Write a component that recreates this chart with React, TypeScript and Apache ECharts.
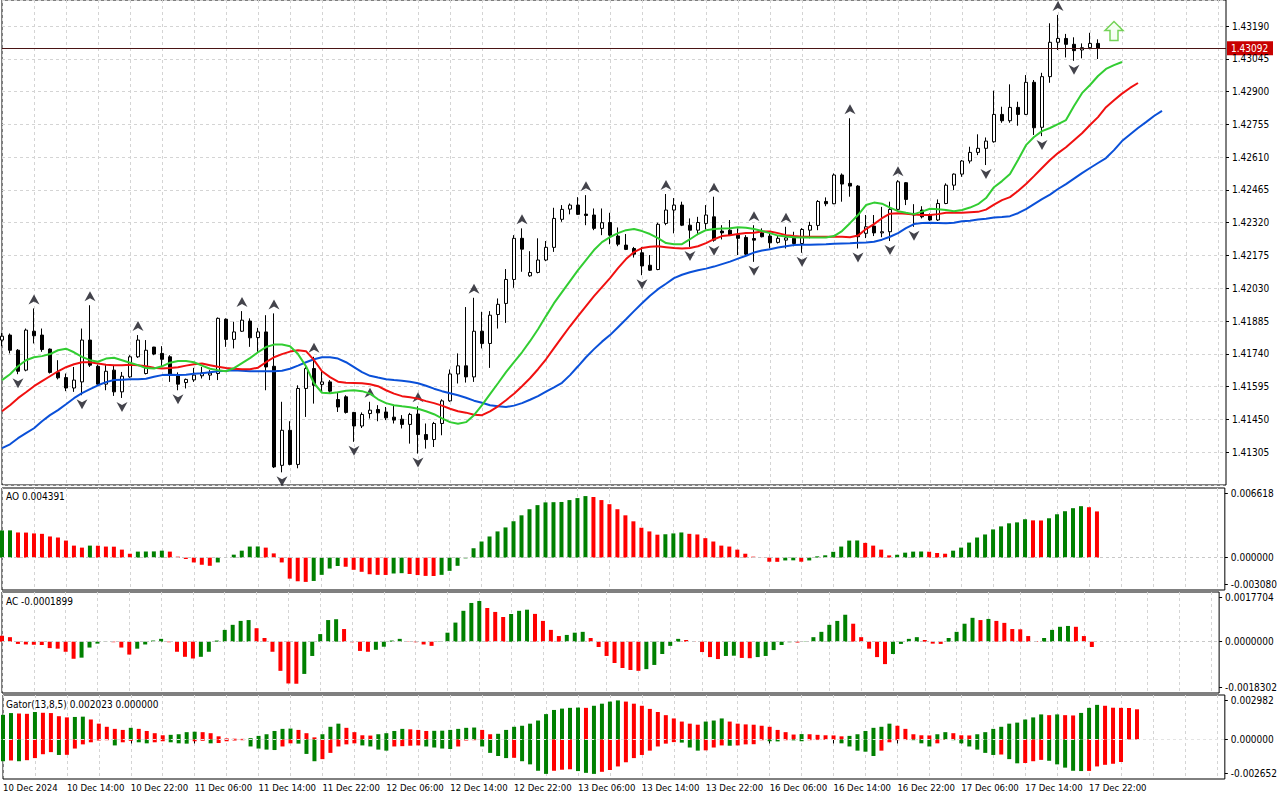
import React, { useEffect, useRef } from "react";
import * as echarts from "echarts";

// ---------- data ----------
const BASE = 1.41305;
const PT = 100000;
const priceTickStep = 0.00145;
const mainTopPrice = 1.43305;

const sessionDays = ["10 Dec", "11 Dec", "12 Dec", "13 Dec", "16 Dec", "17 Dec", "18 Dec"];
const firstHour = 6;
const SLOTS = 154;

const xTickLabels = [
  "10 Dec 2024", "10 Dec 14:00", "10 Dec 22:00", "11 Dec 06:00", "11 Dec 14:00", "11 Dec 22:00",
  "12 Dec 06:00", "12 Dec 14:00", "12 Dec 22:00", "13 Dec 06:00", "13 Dec 14:00", "13 Dec 22:00",
  "16 Dec 06:00", "16 Dec 14:00", "16 Dec 22:00", "17 Dec 06:00", "17 Dec 14:00", "17 Dec 22:00",
];

const opens = [
  1.41801, 1.41823, 1.41756, 1.41668, 1.4184, 1.41823, 1.41761, 1.41658, 1.41635, 1.41589,
  1.41616, 1.41801, 1.41685, 1.41606, 1.41668, 1.41572, 1.41638, 1.41727, 1.41653, 1.4177,
  1.41742, 1.41727, 1.41643, 1.41613, 1.41625, 1.41643, 1.41646, 1.41653, 1.41893, 1.41804,
  1.4184, 1.41885, 1.41812, 1.41837, 1.41685, 1.41247, 1.41402, 1.41251, 1.41587, 1.41675,
  1.41605, 1.41616, 1.41538, 1.4155, 1.41481, 1.41421, 1.41476, 1.41494, 1.41483, 1.4146,
  1.41451, 1.41428, 1.41474, 1.41383, 1.41361, 1.41432, 1.41532, 1.41651, 1.41687, 1.41638,
  1.4184, 1.41786, 1.41914, 1.41963, 1.42069, 1.42251, 1.42085, 1.421, 1.42155, 1.42211,
  1.42335, 1.4238, 1.42398, 1.42358, 1.42354, 1.42295, 1.42321, 1.42261, 1.42221, 1.42206,
  1.42187, 1.42132, 1.42113, 1.42317, 1.42376, 1.42398, 1.42309, 1.42287, 1.42317, 1.42346,
  1.42283, 1.42287, 1.42265, 1.42255, 1.4225, 1.42275, 1.42261, 1.42233, 1.42243, 1.42251,
  1.42228, 1.42287, 1.42308, 1.42414, 1.42404, 1.42531, 1.42494, 1.42482, 1.42273, 1.42305,
  1.42275, 1.4228, 1.42379, 1.42497, 1.42354, 1.42376, 1.42354, 1.42332, 1.42405, 1.42486,
  1.42535, 1.42593, 1.42631, 1.42649, 1.42678, 1.42799, 1.42771, 1.4283, 1.42799, 1.42941,
  1.42742, 1.42966, 1.43118, 1.43135, 1.43109, 1.43084, 1.43094, 1.43113,
];
const closes = [
  1.41818, 1.41756, 1.41663, 1.41845, 1.4182, 1.41759, 1.41658, 1.41634, 1.41589, 1.41624,
  1.41801, 1.4169, 1.41606, 1.41663, 1.41572, 1.41641, 1.41727, 1.41801, 1.41756, 1.41739,
  1.41716, 1.41646, 1.41606, 1.41627, 1.41646, 1.41656, 1.41655, 1.41897, 1.41804, 1.41837,
  1.41889, 1.41811, 1.41837, 1.41682, 1.4124, 1.41402, 1.41251, 1.41587, 1.41675, 1.41601,
  1.41616, 1.41575, 1.41505, 1.41481, 1.41421, 1.41472, 1.41491, 1.41479, 1.41457, 1.41447,
  1.41428, 1.41472, 1.41383, 1.41361, 1.41432, 1.41532, 1.41651, 1.41687, 1.41638, 1.4184,
  1.41786, 1.41911, 1.41959, 1.42069, 1.42251, 1.42203, 1.421, 1.42155, 1.42211, 1.42339,
  1.42379, 1.42398, 1.42357, 1.42352, 1.42295, 1.4232, 1.42265, 1.42225, 1.42202, 1.42181,
  1.42129, 1.4211, 1.42313, 1.42376, 1.42398, 1.42309, 1.42287, 1.42321, 1.42354, 1.42243,
  1.42275, 1.42265, 1.42251, 1.42181, 1.42243, 1.42258, 1.42231, 1.42251, 1.42253, 1.42228,
  1.4229, 1.42308, 1.42414, 1.42404, 1.42531, 1.42491, 1.42482, 1.42258, 1.42302, 1.42275,
  1.4228, 1.42379, 1.42501, 1.42423, 1.42361, 1.42346, 1.42332, 1.42405, 1.42486, 1.42535,
  1.42593, 1.42631, 1.42649, 1.42681, 1.42799, 1.42771, 1.4283, 1.42799, 1.42941, 1.4274,
  1.42966, 1.43118, 1.43135, 1.43109, 1.43081, 1.43094, 1.43113, 1.43092,
];
const lows = [
  1.41774, 1.41742, 1.4165, 1.41663, 1.41786, 1.41749, 1.41653, 1.41627, 1.41575, 1.41572,
  1.41557, 1.41682, 1.41601, 1.41579, 1.41554, 1.41545, 1.41634, 1.41722, 1.41649, 1.41734,
  1.41682, 1.41616, 1.41579, 1.41587, 1.41616, 1.41631, 1.41624, 1.41624, 1.41771, 1.41764,
  1.41837, 1.41771, 1.41749, 1.41579, 1.41235, 1.41216, 1.41247, 1.41234, 1.41461, 1.4152,
  1.41572, 1.41565, 1.41483, 1.41476, 1.41351, 1.41412, 1.41454, 1.41442, 1.41447, 1.41432,
  1.4141, 1.41343, 1.41299, 1.41321, 1.41328, 1.4138, 1.41528, 1.41609, 1.41613, 1.41616,
  1.41764, 1.41678, 1.41852, 1.41877, 1.42032, 1.42103, 1.42081, 1.42096, 1.4215, 1.42191,
  1.42324, 1.42357, 1.42354, 1.42309, 1.42287, 1.42265, 1.42225, 1.42216, 1.42199, 1.42166,
  1.42088, 1.42107, 1.4211, 1.42309, 1.42273, 1.42305, 1.42213, 1.42265, 1.4229, 1.42236,
  1.42246, 1.42261, 1.42177, 1.42177, 1.42147, 1.42255, 1.42206, 1.42228, 1.42206, 1.42216,
  1.42187, 1.42251, 1.42287, 1.42393, 1.42402, 1.42413, 1.42435, 1.42206, 1.42252, 1.42261,
  1.42256, 1.42239, 1.42376, 1.42398, 1.42302, 1.42339, 1.42328, 1.42328, 1.42402, 1.42464,
  1.42523, 1.42582, 1.42619, 1.42575, 1.42674, 1.42762, 1.42762, 1.42749, 1.42796, 1.42708,
  1.42703, 1.42939, 1.43084, 1.43051, 1.43036, 1.43047, 1.43087, 1.43044,
];
const highs = [
  1.41832, 1.4183, 1.41761, 1.41852, 1.41941, 1.41852, 1.41764, 1.41712, 1.41653, 1.41682,
  1.41852, 1.41955, 1.41693, 1.41693, 1.4169, 1.4166, 1.41734, 1.41823, 1.41801, 1.41771,
  1.41774, 1.41734, 1.41658, 1.41631, 1.41678, 1.41682, 1.41668, 1.41901, 1.41897, 1.41882,
  1.41929, 1.41897, 1.41855, 1.41911, 1.41919, 1.41528, 1.41442, 1.41601, 1.41682, 1.41727,
  1.41668, 1.41624, 1.41572, 1.41557, 1.41483, 1.41481, 1.41528, 1.41513, 1.41505, 1.4151,
  1.41469, 1.41479, 1.41508, 1.41432, 1.41439, 1.41539, 1.41671, 1.41742, 1.41947, 1.41988,
  1.41926, 1.41929, 1.41985, 1.42115, 1.42265, 1.42295, 1.42194, 1.42251, 1.42239, 1.42386,
  1.42398, 1.42405, 1.42433, 1.42442, 1.42383, 1.42383, 1.42364, 1.42299, 1.4227, 1.42213,
  1.42213, 1.42177, 1.4232, 1.42447, 1.42429, 1.42413, 1.42339, 1.42346, 1.42398, 1.42435,
  1.42309, 1.42332, 1.42295, 1.42265, 1.42309, 1.42295, 1.42273, 1.42265, 1.42302, 1.4228,
  1.42296, 1.42324, 1.4242, 1.42432, 1.42538, 1.42538, 1.42782, 1.42486, 1.42354, 1.42354,
  1.4239, 1.42413, 1.42508, 1.425, 1.42402, 1.42393, 1.42361, 1.42423, 1.42494, 1.42538,
  1.42597, 1.42656, 1.42711, 1.42697, 1.42904, 1.42833, 1.42932, 1.42855, 1.42973, 1.42951,
  1.42983, 1.43202, 1.43239, 1.43155, 1.4314, 1.43113, 1.4316, 1.43131,
];

// Alligator (jaw shifted 8, teeth 5, lips 3)
const jaw = [
  1.41323, 1.4134, 1.41367, 1.41389, 1.41411, 1.41442, 1.41469, 1.41491, 1.41517, 1.41544,
  1.41566, 1.41584, 1.41601, 1.41615, 1.41624, 1.41626, 1.41628, 1.41628, 1.4163, 1.41639,
  1.41646, 1.41648, 1.41646, 1.41648, 1.41652, 1.41654, 1.41659, 1.41663, 1.41665, 1.41668,
  1.41665, 1.41663, 1.41663, 1.41663, 1.41663, 1.41665, 1.41674, 1.41688, 1.41703, 1.41716,
  1.41725, 1.41725, 1.41719, 1.41703, 1.41681, 1.41659, 1.41643, 1.41635, 1.41628, 1.41624,
  1.41621, 1.41617, 1.4161, 1.41599, 1.41586, 1.41575, 1.41566, 1.41557, 1.41546, 1.41533,
  1.41524, 1.41513, 1.41508, 1.41505, 1.41511, 1.41522, 1.41537, 1.41553, 1.41573, 1.41592,
  1.41612, 1.41646, 1.41685, 1.41725, 1.41761, 1.41794, 1.41823, 1.41858, 1.41893, 1.41929,
  1.41964, 1.41997, 1.42026, 1.4205, 1.42075, 1.4209, 1.42101, 1.4211, 1.42117, 1.42126,
  1.42137, 1.42148, 1.42161, 1.42174, 1.42188, 1.42197, 1.42203, 1.4221, 1.42216, 1.42221,
  1.42222, 1.42223, 1.42224, 1.42225, 1.42227, 1.42228, 1.42229, 1.42231, 1.42233, 1.42236,
  1.42245, 1.42258, 1.42274, 1.42296, 1.42314, 1.42319, 1.4232, 1.42319, 1.42318, 1.4232,
  1.42326, 1.42329, 1.42334, 1.42338, 1.42343, 1.42345, 1.42349, 1.42362, 1.4238, 1.42402,
  1.42424, 1.42444, 1.42469, 1.42491, 1.42515, 1.42539, 1.42562, 1.42584, 1.42606, 1.42641,
  1.42681, 1.4271, 1.42739, 1.42765, 1.42792, 1.42815,
];
const teeth = [
  1.41486, 1.41513, 1.41544, 1.4157, 1.41597, 1.41619, 1.41641, 1.41663, 1.41681, 1.41694,
  1.41703, 1.41703, 1.41697, 1.41692, 1.4169, 1.4169, 1.41692, 1.4169, 1.41685, 1.41679,
  1.41675, 1.41677, 1.41681, 1.41688, 1.41694, 1.41697, 1.4169, 1.41683, 1.41677, 1.41674,
  1.41672, 1.41672, 1.41679, 1.41703, 1.41725, 1.41739, 1.4175, 1.41756, 1.41752, 1.41712,
  1.41663, 1.41637, 1.41617, 1.41612, 1.41611, 1.4161, 1.41606, 1.41597, 1.41579, 1.41564,
  1.41553, 1.41548, 1.41542, 1.41531, 1.41522, 1.41511, 1.41497, 1.41486, 1.4148, 1.41471,
  1.41469, 1.41486, 1.41508, 1.41535, 1.41564, 1.41597, 1.41632, 1.41672, 1.41716, 1.41765,
  1.41814, 1.41862, 1.41907, 1.41951, 1.41995, 1.42035, 1.42075, 1.42119, 1.42159, 1.4219,
  1.42208, 1.42214, 1.42216, 1.42212, 1.42208, 1.42206, 1.42208, 1.42216, 1.4223, 1.42247,
  1.42261, 1.42265, 1.4227, 1.42274, 1.42276, 1.42281, 1.42281, 1.42274, 1.42265, 1.42261,
  1.42258, 1.42258, 1.42258, 1.42258, 1.42258, 1.42258, 1.42256, 1.42263, 1.42292, 1.42314,
  1.4234, 1.4236, 1.42362, 1.4236, 1.42356, 1.42354, 1.42354, 1.42358, 1.42364, 1.42364,
  1.42364, 1.42366, 1.42368, 1.42378, 1.424, 1.4242, 1.42433, 1.4246, 1.42491, 1.42526,
  1.42562, 1.42597, 1.42628, 1.42654, 1.42685, 1.42716, 1.42752, 1.42787, 1.42831, 1.42862,
  1.42891, 1.42916, 1.42938,
];
const lips = [
  1.41624, 1.4165, 1.41685, 1.41712, 1.41725, 1.4173, 1.41739, 1.41756, 1.41763, 1.41747,
  1.41727, 1.41712, 1.41705, 1.41719, 1.41723, 1.41712, 1.41701, 1.4169, 1.41677, 1.41675,
  1.41685, 1.41701, 1.41708, 1.41708, 1.41703, 1.41688, 1.41674, 1.41668, 1.41663, 1.41677,
  1.41699, 1.41721, 1.41747, 1.4177, 1.41781, 1.41781, 1.41774, 1.41739, 1.41685, 1.4161,
  1.41568, 1.41566, 1.4157, 1.41577, 1.41579, 1.41575, 1.41564, 1.41539, 1.41522, 1.41513,
  1.41508, 1.41504, 1.41497, 1.41486, 1.41473, 1.41455, 1.41438, 1.41431, 1.41438, 1.41469,
  1.41513, 1.41562, 1.4161, 1.41659, 1.41703, 1.41747, 1.41796, 1.41849, 1.41907, 1.41964,
  1.42013, 1.42062, 1.4211, 1.42155, 1.42199, 1.42234, 1.42256, 1.42274, 1.42287, 1.42292,
  1.42283, 1.4227, 1.42252, 1.4223, 1.42225, 1.42225, 1.42247, 1.4227, 1.42287, 1.42292,
  1.42294, 1.42296, 1.423, 1.42298, 1.42292, 1.42283, 1.42274, 1.42263, 1.42259, 1.42256,
  1.42255, 1.42255, 1.42255, 1.42255, 1.42261, 1.42283, 1.42318, 1.42354, 1.42398, 1.42409,
  1.42404, 1.42387, 1.42371, 1.42364, 1.42358, 1.42369, 1.42382, 1.4238, 1.42376, 1.42371,
  1.42376, 1.42387, 1.42402, 1.42429, 1.42477, 1.42504, 1.42535, 1.42597, 1.42663, 1.42699,
  1.42725, 1.42739, 1.42756, 1.42774, 1.42836, 1.42893, 1.42929, 1.42969, 1.43, 1.43017,
  1.43031,
];

const fractalUp = [4, 11, 17, 30, 34, 39, 46, 52, 59, 65, 73, 83, 89, 94, 98, 106, 112, 132];
const fractalDown = [2, 10, 15, 22, 35, 44, 52, 80, 86, 89, 94, 100, 107, 111, 114, 123, 130, 134];

const signalBar = 139;
const signalPrice = 1.43168;

const ao = [
  0.00258, 0.00259, 0.00239, 0.00238, 0.0023, 0.00226, 0.00201, 0.00191, 0.00162, 0.00114,
  0.00095, 0.00114, 0.00113, 0.00105, 0.00104, 0.00076, 0.00037, 0.00057, 0.00058, 0.00059,
  0.00066, 0.00057, 0.00009, -0.00013, -0.00046, -0.00068, -0.00078, -0.00046, -0.00001, 0.00028,
  0.00066, 0.00105, 0.00106, 0.00095, 0.0004, -0.00046, -0.002, -0.00225, -0.00231, -0.00222,
  -0.00164, -0.00104, -0.0008, -0.00087, -0.00116, -0.00135, -0.00158, -0.00164, -0.00165, -0.00151,
  -0.00148, -0.00156, -0.00166, -0.00174, -0.00175, -0.00164, -0.00126, -0.00078, -0.00007, 0.00089,
  0.00153, 0.00201, 0.00249, 0.00287, 0.00345, 0.00402, 0.0046, 0.00499, 0.00525, 0.00527,
  0.00529, 0.00547, 0.00566, 0.00585, 0.00576, 0.00547, 0.00508, 0.0046, 0.00402, 0.00345,
  0.00284, 0.00249, 0.00218, 0.00222, 0.0023, 0.00239, 0.00226, 0.0022, 0.00185, 0.00153,
  0.00114, 0.00105, 0.00076, 0.00037, 0.00009, -0.00001, -0.00039, -0.0004, -0.00027, -0.00026,
  -0.00039, -0.00027, 0.00012, 0.00022, 0.00055, 0.00105, 0.00162, 0.00163, 0.0014, 0.00114,
  0.00076, 0.00021, 0.00027, 0.00047, 0.00057, 0.00058, 0.00056, 0.00044, 0.00037, 0.00066,
  0.00095, 0.00143, 0.00191, 0.0022, 0.00268, 0.00297, 0.00326, 0.00335, 0.00364, 0.00354,
  0.00353, 0.00374, 0.00412, 0.00441, 0.0047, 0.00489, 0.00479, 0.004391,
];
const ac = [
  0.00021, 0.00016, -0.00008, -0.0001, -0.00011, -0.00012, -0.00023, -0.00025, -0.00036, -0.00061,
  -0.00057, -0.00021, -0.00007, -0.00001, -0.00002, -0.00021, -0.00046, -0.00025, -0.0001, 0.00004,
  0.0001, -0.00002, -0.00036, -0.00054, -0.0006, -0.00054, -0.00036, 0.00004, 0.00042, 0.0006,
  0.00074, 0.00077, 0.00048, 0.00013, -0.00036, -0.00104, -0.00149, -0.0015, -0.00115, -0.00051,
  0.00027, 0.00077, 0.0008, 0.00045, -0.00002, -0.00033, -0.00036, -0.00029, -0.00018, 0.00004,
  0.0001, 0.00001, -0.00002, -0.0001, -0.00015, -0.00001, 0.00032, 0.00068, 0.0011, 0.00138,
  0.00145, 0.0012, 0.00106, 0.00088, 0.00099, 0.0011, 0.00114, 0.00099, 0.00074, 0.00042,
  0.0002, 0.00024, 0.00032, 0.00035, 0.00013, -0.00019, -0.00051, -0.00076, -0.00094, -0.00101,
  -0.00104, -0.00098, -0.00083, -0.00044, -0.00015, 0.0001, 0.00006, -0.00001, -0.00037, -0.00055,
  -0.00062, -0.00051, -0.0005, -0.00058, -0.00059, -0.00055, -0.00051, -0.0003, -0.00012, -0.00002,
  -0.00003, 0.00001, 0.00016, 0.00035, 0.0006, 0.00074, 0.00096, 0.00064, 0.00016, -0.00025,
  -0.00055, -0.0008, -0.00044, -0.00008, 0.0001, 0.00016, 0.00006, -0.00007, -0.00008, 0.00013,
  0.00035, 0.00064, 0.00085, 0.00077, 0.00081, 0.00074, 0.00067, 0.00045, 0.00044, 0.0002,
  0.00002, 0.00013, 0.00042, 0.00053, 0.00056, 0.00053, 0.0002, -0.0001899,
];
const gatorUp = [
  0.00165, 0.00177, 0.00174, 0.00172, 0.00184, 0.00179, 0.00177, 0.00156, 0.00148, 0.00151,
  0.00153, 0.00134, 0.00106, 0.00085, 0.00071, 0.00064, 0.00078, 0.00071, 0.00057, 0.00042,
  0.00028, 0.00031, 0.00035, 0.00049, 0.00052, 0.00049, 0.00042, 0.00021, 0.00007, 0.00005,
  0.00004, 0.00009, 0.00024, 0.00035, 0.00057, 0.00071, 0.00073, 0.00064, 0.00042, 0.00014,
  0.00035, 0.00085, 0.00106, 0.00078, 0.00049, 0.00028, 0.00026, 0.00035, 0.00042, 0.00057,
  0.00071, 0.00068, 0.00064, 0.00057, 0.00058, 0.00059, 0.00064, 0.00071, 0.00078, 0.0008,
  0.00064, 0.00035, 0.00038, 0.00064, 0.00085, 0.00092, 0.00106, 0.00127, 0.0017, 0.00198,
  0.00207, 0.00212, 0.00214, 0.00212, 0.00226, 0.0024, 0.00254, 0.00262, 0.00254, 0.0024,
  0.00226, 0.00205, 0.00184, 0.00163, 0.00141, 0.0012, 0.00106, 0.00099, 0.0012, 0.00127,
  0.00141, 0.0012, 0.00106, 0.00101, 0.00099, 0.00092, 0.00085, 0.00064, 0.00049, 0.00033,
  0.00036, 0.00035, 0.00031, 0.00028, 0.00027, 0.00021, 0.00024, 0.00035, 0.00057, 0.00078,
  0.00085, 0.00106, 0.00092, 0.00071, 0.00035, 0.00028, 0.00027, 0.00035, 0.00049, 0.00042,
  0.00028, 0.00027, 0.00035, 0.00049, 0.00071, 0.00085, 0.00106, 0.00113, 0.00134, 0.00148,
  0.00168, 0.00163, 0.00168, 0.00163, 0.00161, 0.00178, 0.00212, 0.00232, 0.00226, 0.00213,
  0.00212, 0.00211, 0.002023,
];
const gatorDown = [
  -0.00146, -0.00141, -0.00146, -0.00139, -0.00125, -0.00099, -0.00085, -0.00104, -0.00103, -0.00061,
  -0.00033, -0.00019, -0.00007, -0.00005, -0.0004, -0.00019, -0.00009, -0.00019, -0.00026, -0.00019,
  -0.00012, -0.00019, -0.00026, -0.00028, -0.00012, -0.00009, -0.00026, -0.00024, -0.00012, -0.00007,
  -0.00005, -0.00047, -0.00061, -0.00068, -0.00071, -0.00047, -0.00026, -0.00028, -0.00097, -0.00146,
  -0.00132, -0.0009, -0.00047, -0.00033, -0.00026, -0.0004, -0.00047, -0.00068, -0.00075, -0.00047,
  -0.00045, -0.00042, -0.0004, -0.00047, -0.00054, -0.00061, -0.00064, -0.00047, -0.00007, -0.00005,
  -0.00047, -0.0009, -0.00111, -0.00125, -0.00123, -0.00146, -0.00167, -0.0021, -0.00231, -0.0021,
  -0.00203, -0.002, -0.00212, -0.00224, -0.00231, -0.00217, -0.00205, -0.00181, -0.00153, -0.00125,
  -0.00104, -0.00075, -0.00047, -0.00028, -0.00018, -0.00021, -0.00054, -0.00075, -0.00073, -0.00054,
  -0.0004, -0.00042, -0.0004, -0.00033, -0.00032, -0.00005, -0.00012, -0.00013, -0.00005, -0.00006,
  -0.00012, -0.00005, -0.00004, -0.00003, -0.00002, -0.00026, -0.00047, -0.00075, -0.00082, -0.00111,
  -0.00075, -0.00019, -0.00005, -0.00004, -0.00005, -0.00026, -0.00047, -0.00026, -0.00003, -0.00005,
  -0.00026, -0.00047, -0.00068, -0.0009, -0.00104, -0.00101, -0.00132, -0.0016, -0.00158, -0.00146,
  -0.00137, -0.00143, -0.00167, -0.00189, -0.0021, -0.00212, -0.00211, -0.00181, -0.0017, -0.00163,
  -0.00151,
];

const aoRange = [-0.00308, 0.006618];
const acRange = [-0.0018302, 0.0017704];
const gatorRange = [-0.002652, 0.002982];

// ---------- styling ----------
const FONT = 'Tahoma, "DejaVu Sans Condensed", "Liberation Sans", Arial, sans-serif';
const FS = 10;
const FS_X = 9.5;
const GREEN = "#008000";
const RED = "#ff0000";
const GRID_LINE = { color: "#d4d4d4", type: [3, 3] as number[], width: 1 };

const toPts = (p: number) => (p - BASE) * PT;

function buildCategories(): string[] {
  const out: string[] = [];
  for (let d = 0; d < sessionDays.length && out.length < SLOTS; d++) {
    for (let h = d === 0 ? firstHour : 0; h < 24 && out.length < SLOTS; h++) {
      out.push(`${sessionDays[d]} ${String(h).padStart(2, "0")}:00`);
    }
  }
  return out;
}

const GRIDS = [
  { top: 0, height: 485 },
  { top: 488, height: 102 },
  { top: 592, height: 101 },
  { top: 695, height: 84 },
];

function oscYAxis(gridIndex: number, range: number[], heightPx: number, digits: number) {
  const [mn, mx] = range;
  const perPx = (mx - mn) / heightPx;
  const marks = [mx - 5 * perPx, 0, mn + 5.7 * perPx];
  const texts = [mx.toFixed(digits), (0).toFixed(digits), mn.toFixed(digits)];
  const pick = (v: number) => {
    let best = 0;
    for (let k = 1; k < marks.length; k++) {
      if (Math.abs(marks[k] - v) < Math.abs(marks[best] - v)) best = k;
    }
    return texts[best];
  };
  return {
    type: "value",
    gridIndex,
    position: "right",
    min: mn,
    max: mx,
    axisLine: { show: false },
    splitLine: { show: false },
    axisTick: { show: true, customValues: marks, length: 3, lineStyle: { color: "#000" } },
    axisLabel: {
      show: true,
      customValues: marks,
      margin: 6,
      color: "#000",
      fontSize: FS,
      fontFamily: FONT,
      formatter: (v: number) => pick(v),
    },
  };
}

const upDownColor = (arr: number[], firstColor: string, useAbs: boolean) => (p: any) => {
  const i = p.dataIndex;
  if (i === 0) return firstColor;
  const cur = useAbs ? Math.abs(arr[i]) : arr[i];
  const prev = useAbs ? Math.abs(arr[i - 1]) : arr[i - 1];
  return cur > prev ? GREEN : RED;
};

export default function App() {
  const ref = useRef<HTMLDivElement>(null);

  useEffect(() => {
    if (!ref.current) return;
    const chart = echarts.init(ref.current, undefined, { renderer: "svg" });
    const categories = buildCategories();
    const step = Math.round(priceTickStep * PT);
    const lastClose = closes[closes.length - 1];

    const isLabelIdx = (i: number) => i % 8 === 0 && i / 8 < xTickLabels.length;

    const xAxes = GRIDS.map((_, gi) => ({
      type: "category",
      gridIndex: gi,
      data: categories,
      boundaryGap: false,
      axisLine: { show: false },
      axisTick:
        gi === 3
          ? { show: true, interval: (i: number) => isLabelIdx(i), length: 4, lineStyle: { color: "#000" } }
          : { show: false },
      axisLabel:
        gi === 3
          ? {
              show: true,
              interval: (i: number) => isLabelIdx(i),
              formatter: (_v: string, i: number) => (isLabelIdx(i) ? xTickLabels[i / 8] : ""),
              align: "left",
              margin: 3,
              color: "#000",
              fontSize: FS_X,
              fontFamily: FONT,
            }
          : { show: false },
      splitLine: { show: true, interval: (i: number) => i % 4 === 0, lineStyle: GRID_LINE },
    }));

    const yAxes: any[] = [
      {
        type: "value",
        gridIndex: 0,
        position: "right",
        min: -step,
        max: toPts(mainTopPrice),
        interval: step,
        axisLine: { show: false },
        axisTick: { show: true, length: 3, lineStyle: { color: "#000" } },
        axisLabel: {
          show: true,
          showMinLabel: false,
          showMaxLabel: false,
          margin: 6,
          color: "#000",
          fontSize: FS,
          fontFamily: FONT,
          formatter: (v: number) => (BASE + v / PT).toFixed(5),
        },
        splitLine: { show: true, lineStyle: GRID_LINE },
      },
      oscYAxis(1, aoRange, GRIDS[1].height, 6),
      oscYAxis(2, acRange, GRIDS[2].height, 7),
      oscYAxis(3, gatorRange, GRIDS[3].height, 6),
    ];

    const zeroLine = (color: string) => ({
      silent: true,
      symbol: "none",
      label: { show: false },
      lineStyle: { color, type: [3, 3], width: 1 },
      data: [{ yAxis: 0 }],
    });

    const lineSeries = (name: string, data: number[], color: string) => ({
      name,
      type: "line",
      xAxisIndex: 0,
      yAxisIndex: 0,
      data: data.map(toPts),
      showSymbol: false,
      symbol: "none",
      lineStyle: { color, width: 2 },
      silent: true,
    });

    const titleStyle = { fontSize: FS, fontFamily: FONT, fontWeight: "normal", color: "#000" };
    const gatorLowLast = gatorDown.length >= gatorUp.length ? gatorDown[gatorUp.length - 1] : 0;

    chart.setOption({
      animation: false,
      backgroundColor: "#ffffff",
      title: [
        { text: `AO ${ao[ao.length - 1].toFixed(6)}`, left: 6, top: 491, padding: 0, textStyle: titleStyle },
        { text: `AC ${ac[ac.length - 1].toFixed(7)}`, left: 6, top: 596, padding: 0, textStyle: titleStyle },
        {
          text: `Gator(13,8,5) ${gatorUp[gatorUp.length - 1].toFixed(6)} ${Math.abs(gatorLowLast).toFixed(6)}`,
          left: 6,
          top: 699,
          padding: 0,
          textStyle: titleStyle,
        },
      ],
      grid: GRIDS.map((g) => ({
        left: 2,
        width: 1224,
        top: g.top,
        height: g.height,
        show: true,
        borderColor: "#000",
        borderWidth: 1,
        backgroundColor: "transparent",
      })),
      xAxis: xAxes,
      yAxis: yAxes,
      series: [
        {
          name: "EURUSD",
          type: "candlestick",
          xAxisIndex: 0,
          yAxisIndex: 0,
          barWidth: 4,
          data: opens.map((o, i) => [toPts(o), toPts(closes[i]), toPts(lows[i]), toPts(highs[i])]),
          itemStyle: { color: "#ffffff", color0: "#000000", borderColor: "#000000", borderColor0: "#000000", borderWidth: 1 },
          markLine: {
            silent: true,
            symbol: "none",
            label: { show: false },
            lineStyle: { color: "#4a1414", type: "solid", width: 1 },
            data: [{ yAxis: toPts(lastClose) }],
          },
        },
        lineSeries("Jaw", jaw, "#0a50d8"),
        lineSeries("Teeth", teeth, "#f01010"),
        lineSeries("Lips", lips, "#32cd32"),
        {
          name: "FractalUp",
          type: "scatter",
          xAxisIndex: 0,
          yAxisIndex: 0,
          symbol: "path://M5,0L10,10L5,7L0,10Z",
          symbolSize: [11, 10],
          symbolOffset: [0, -9],
          itemStyle: { color: "#14141e" },
          data: fractalUp.map((i) => [i, toPts(highs[i])]),
          silent: true,
        },
        {
          name: "FractalDown",
          type: "scatter",
          xAxisIndex: 0,
          yAxisIndex: 0,
          symbol: "path://M0,0L5,3L10,0L5,10Z",
          symbolSize: [11, 10],
          symbolOffset: [0, 9],
          itemStyle: { color: "#14141e" },
          data: fractalDown.map((i) => [i, toPts(lows[i])]),
          silent: true,
        },
        {
          name: "Signal",
          type: "scatter",
          xAxisIndex: 0,
          yAxisIndex: 0,
          symbol: "path://M9,0L18,9L13,9L13,19L5,19L5,9L0,9Z",
          symbolSize: [18, 19],
          itemStyle: { color: "#f3fff0", borderColor: "#52c82e", borderWidth: 1.5 },
          data: [[signalBar, toPts(signalPrice)]],
          silent: true,
        },
        {
          name: "AO",
          type: "bar",
          xAxisIndex: 1,
          yAxisIndex: 1,
          barWidth: 4,
          data: ao,
          itemStyle: { color: upDownColor(ao, GREEN, false) },
          markLine: zeroLine("#c8c8c8"),
          silent: true,
        },
        {
          name: "AC",
          type: "bar",
          xAxisIndex: 2,
          yAxisIndex: 2,
          barWidth: 4,
          data: ac,
          itemStyle: { color: upDownColor(ac, RED, false) },
          markLine: zeroLine("#c8c8c8"),
          silent: true,
        },
        {
          name: "GatorUp",
          type: "bar",
          xAxisIndex: 3,
          yAxisIndex: 3,
          barWidth: 4,
          data: gatorUp,
          itemStyle: { color: upDownColor(gatorUp, GREEN, true) },
          silent: true,
        },
        {
          name: "GatorDown",
          type: "bar",
          xAxisIndex: 3,
          yAxisIndex: 3,
          barWidth: 4,
          barGap: "-100%",
          data: gatorDown,
          itemStyle: { color: upDownColor(gatorDown, GREEN, true) },
          markLine: zeroLine("#e4e4e4"),
          silent: true,
        },
      ],
    });

    const py = chart.convertToPixel({ yAxisIndex: 0 }, toPts(lastClose)) as number;
    if (typeof py === "number" && isFinite(py)) {
      chart.setOption({
        graphic: [
          { type: "rect", shape: { x: 1227, y: py - 7, width: 46, height: 14 }, style: { fill: "#c80000" }, silent: true },
          {
            type: "text",
            x: 1231,
            y: py,
            style: { text: lastClose.toFixed(5), fill: "#ffffff", font: `${FS}px ${FONT}`, verticalAlign: "middle" },
            silent: true,
          },
        ],
      });
    }

    return () => chart.dispose();
  }, []);

  return (
    <div
      ref={ref}
      style={{ position: "fixed", left: 0, top: 0, width: 1280, height: 800, background: "#fff" }}
    />
  );
}
